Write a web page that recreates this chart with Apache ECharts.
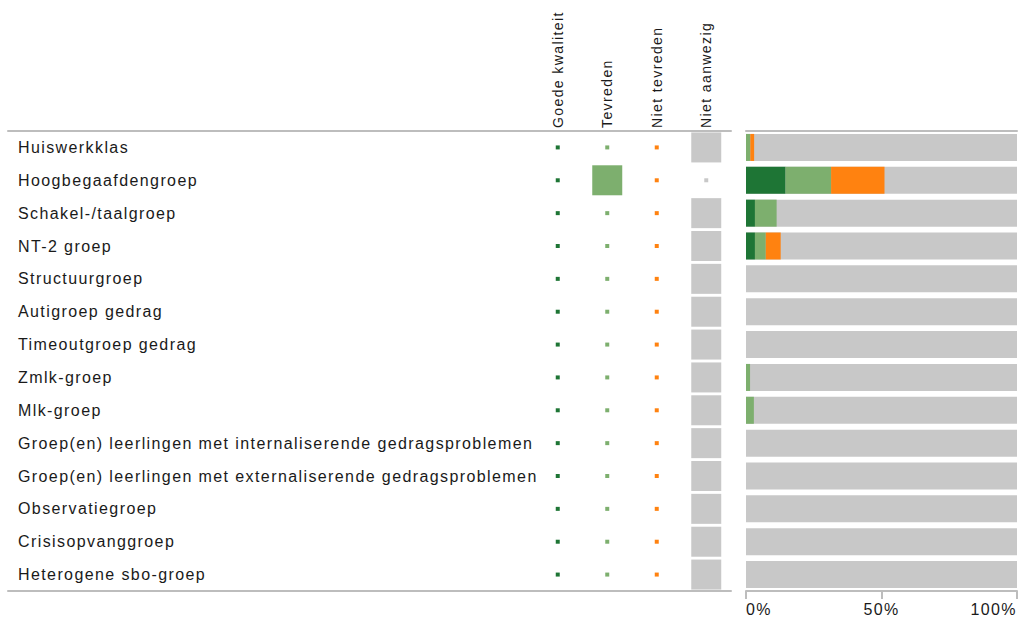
<!DOCTYPE html>
<html>
<head>
<meta charset="utf-8">
<script src="https://cdn.jsdelivr.net/npm/echarts@6/dist/echarts.min.js"></script>
<style>
  html, body { margin: 0; padding: 0; background: #fff; }
  #chart { width: 1020px; height: 627px; }
  #chart text { letter-spacing: 1.4px; }
</style>
</head>
<body>
<div id="chart"></div>
<script>
// ---- data ----
const categories = [
  'Huiswerkklas',
  'Hoogbegaafdengroep',
  'Schakel-/taalgroep',
  'NT-2 groep',
  'Structuurgroep',
  'Autigroep gedrag',
  'Timeoutgroep gedrag',
  'Zmlk-groep',
  'Mlk-groep',
  'Groep(en) leerlingen met internaliserende gedragsproblemen',
  'Groep(en) leerlingen met externaliserende gedragsproblemen',
  'Observatiegroep',
  'Crisisopvanggroep',
  'Heterogene sbo-groep'
];
const headers = ['Goede kwaliteit', 'Tevreden', 'Niet tevreden', 'Niet aanwezig'];
const headerColors = ['#1e7535', '#7daf6e', '#ff8210', '#c8c8c8'];

// relative square size per column (0 = smallest marker, 1 = full cell)
const sqGoede        = [0,0,0,0,0,0,0,0,0,0,0,0,0,0];
const sqTevreden     = [0,1,0,0,0,0,0,0,0,0,0,0,0,0];
const sqNietTevreden = [0,0,0,0,0,0,0,0,0,0,0,0,0,0];
const sqNietAanwezig = [1,0,1,1,1,1,1,1,1,1,1,1,1,1];

// stacked bar percentages
const barGoede        = [0, 14.6, 3.3, 3.3, 0, 0, 0, 0,   0,   0, 0, 0, 0, 0];
const barTevreden     = [1.6, 16.8, 8.0, 4.0, 0, 0, 0, 1.5, 2.9, 0, 0, 0, 0, 0];
const barNietTevreden = [1.4, 19.7, 0,   5.5, 0, 0, 0, 0,   0,   0, 0, 0, 0, 0];

const axisTicks = [0, 50, 100];

// ---- chart ----
const chart = echarts.init(document.getElementById('chart'), null, { renderer: 'svg' });
const FONT = 'Liberation Sans';
const TXT = '#1a1a1a';
const LINE = '#bdbdbd';

const sqColumns = [sqGoede, sqTevreden, sqNietTevreden, sqNietAanwezig];
const scatterSeries = sqColumns.map((col, ci) => ({
  type: 'scatter',
  xAxisIndex: 2, yAxisIndex: 1,
  symbol: 'rect',
  symbolSize: (v) => Math.max(4, v[2] * 30),
  itemStyle: { color: headerColors[ci], opacity: 1 },
  silent: true,
  data: col.map((v, ri) => [headers[ci], categories[ri], v])
}));

const option = {
  animation: false,
  backgroundColor: '#fff',
  textStyle: { fontFamily: FONT },
  grid: [
    { left: 8,   right: 289, top: 131, bottom: 36, containLabel: false },
    { left: 533, right: 289, top: 131, bottom: 36, containLabel: false },
    { left: 746, right: 1,   top: 131, bottom: 36, containLabel: false }
  ],
  xAxis: [
    { gridIndex: 0, type: 'value', position: 'top', min: 0, max: 1,
      axisLine: { show: true, lineStyle: { color: LINE, width: 2 } },
      axisTick: { show: false }, axisLabel: { show: false }, splitLine: { show: false } },
    { gridIndex: 0, type: 'value', position: 'bottom', min: 0, max: 1,
      axisLine: { show: true, onZero: false, lineStyle: { color: LINE, width: 2 } },
      axisTick: { show: false }, axisLabel: { show: false }, splitLine: { show: false } },
    { gridIndex: 1, type: 'category', position: 'top', data: headers,
      axisLine: { show: false }, axisTick: { show: false },
      axisLabel: { rotate: -90, margin: 3, fontSize: 14, color: TXT, fontFamily: FONT, interval: 0 },
      splitLine: { show: false } },
    { gridIndex: 2, type: 'value', position: 'bottom', min: 0, max: 100, interval: 50,
      axisLine: { show: true, onZero: false, lineStyle: { color: LINE, width: 2 } },
      axisTick: { show: true, length: 8, lineStyle: { color: LINE, width: 2 } },
      axisLabel: { fontSize: 16, color: TXT, fontFamily: FONT, margin: 10,
        formatter: (v) => axisTicks.indexOf(v) >= 0 ? v + '%' : '',
        alignMinLabel: 'left', alignMaxLabel: 'right' },
      splitLine: { show: false } },
    { gridIndex: 2, type: 'value', position: 'top', min: 0, max: 100,
      axisLine: { show: true, lineStyle: { color: LINE, width: 2 } },
      axisTick: { show: false }, axisLabel: { show: false }, splitLine: { show: false } }
  ],
  yAxis: [
    { gridIndex: 0, type: 'category', inverse: true, data: categories,
      axisLine: { show: false }, axisTick: { show: false },
      axisLabel: { inside: true, margin: 10, fontSize: 16, color: TXT, fontFamily: FONT, interval: 0 } },
    { gridIndex: 1, type: 'category', inverse: true, data: categories,
      axisLine: { show: false }, axisTick: { show: false }, axisLabel: { show: false } },
    { gridIndex: 2, type: 'category', inverse: true, data: categories,
      axisLine: { show: false }, axisTick: { show: false }, axisLabel: { show: false } }
  ],
  series: [
    ...scatterSeries,
    { name: 'Goede kwaliteit', type: 'bar', stack: 'b', xAxisIndex: 3, yAxisIndex: 2,
      barWidth: 27, data: barGoede, itemStyle: { color: headerColors[0] },
      showBackground: true, backgroundStyle: { color: '#c8c8c8' }, silent: true },
    { name: 'Tevreden', type: 'bar', stack: 'b', xAxisIndex: 3, yAxisIndex: 2,
      barWidth: 27, data: barTevreden, itemStyle: { color: headerColors[1] }, silent: true },
    { name: 'Niet tevreden', type: 'bar', stack: 'b', xAxisIndex: 3, yAxisIndex: 2,
      barWidth: 27, data: barNietTevreden, itemStyle: { color: headerColors[2] }, silent: true }
  ]
};
chart.setOption(option);
</script>
</body>
</html>
